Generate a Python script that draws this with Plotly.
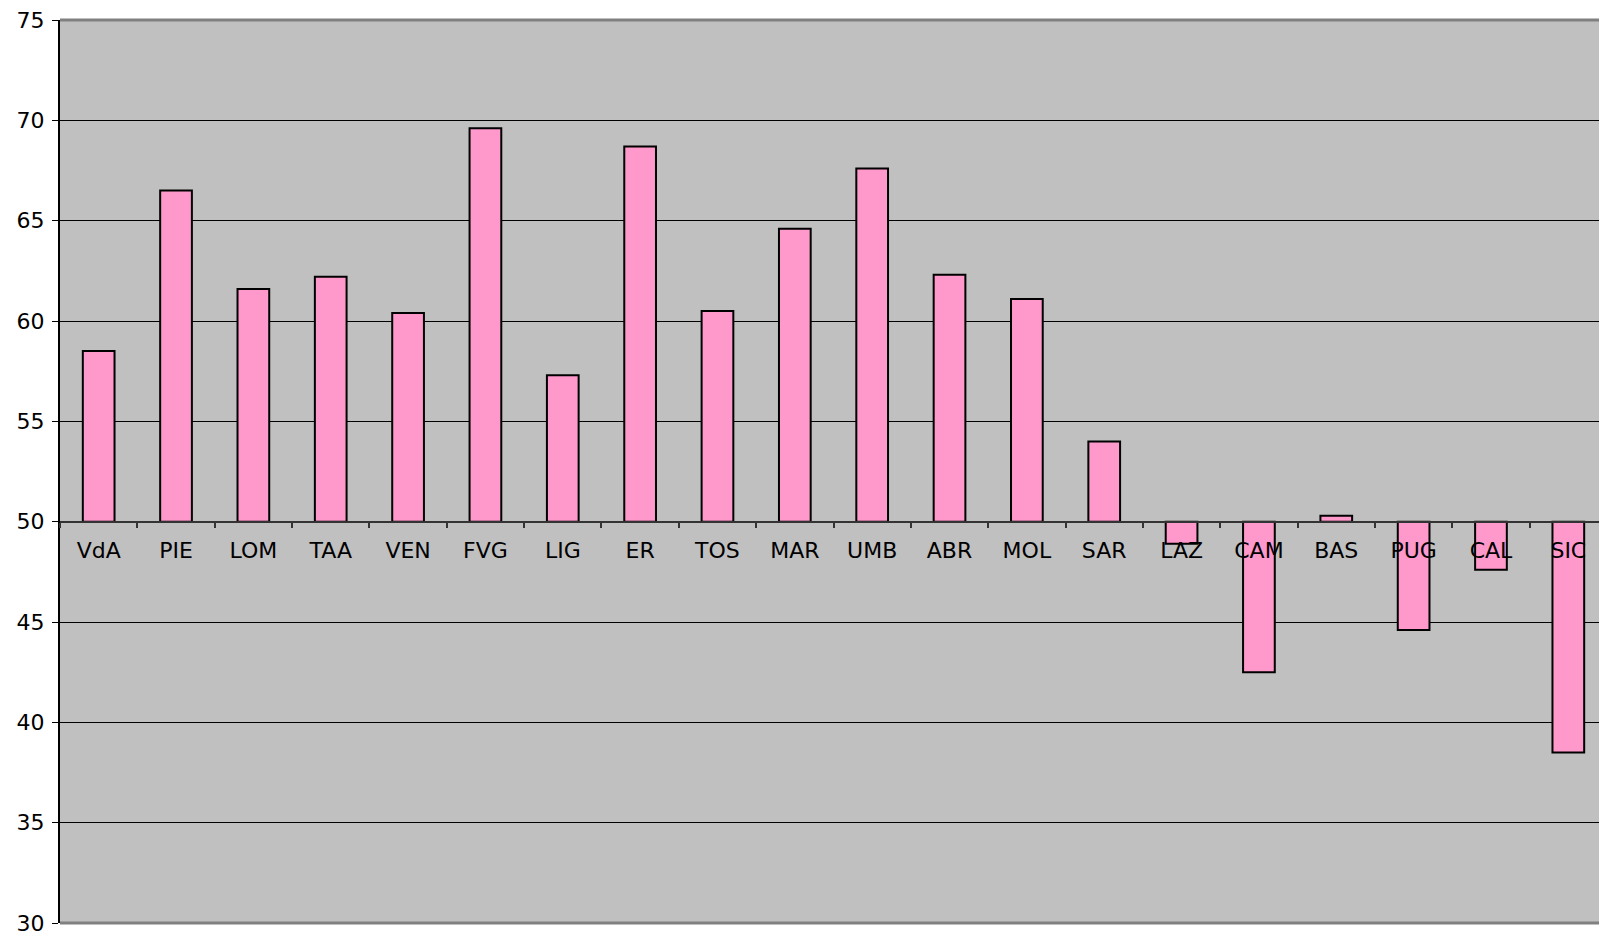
import plotly.graph_objects as go

categories = ["VdA", "PIE", "LOM", "TAA", "VEN", "FVG", "LIG", "ER", "TOS", "MAR",
              "UMB", "ABR", "MOL", "SAR", "LAZ", "CAM", "BAS", "PUG", "CAL", "SIC"]
values = [58.5, 66.5, 61.6, 62.2, 60.4, 69.6, 57.3, 68.7, 60.5, 64.6,
          67.6, 62.3, 61.1, 54.0, 48.9, 42.5, 50.3, 44.6, 47.6, 38.5]
baseline = 50
y_ticks = [30, 35, 40, 45, 50, 55, 60, 65, 70, 75]

y_min, y_max = 30, 75

fig = go.Figure()
fig.add_trace(go.Bar(
    x=categories,
    y=[v - baseline for v in values],
    base=baseline,
    marker=dict(color="#FF99CC", line=dict(color="black", width=2)),
    width=0.41,
))

font = dict(family="DejaVu Sans, Arial, sans-serif", size=22, color="black")

# page body has an 8px default margin; compensate so the plot lands where the reference has it
fig.update_layout(
    width=1599, height=928,
    margin=dict(l=52, r=0, t=12, b=13),
    paper_bgcolor="white",
    plot_bgcolor="#C0C0C0",
    showlegend=False,
    font=font,
    xaxis=dict(
        type="category",
        anchor="free",
        position=(baseline - y_min) / (y_max - y_min),
        showline=True, linecolor="#333333", linewidth=2,
        ticks="outside", tickson="boundaries", ticklen=5, tickcolor="#333333", tickwidth=1.5,
        showgrid=False,
        tickfont=font,
        ticklabelstandoff=9,
        range=[-0.5, len(categories) - 0.5],
    ),
    yaxis=dict(
        range=[y_min, y_max],
        tickvals=y_ticks,
        showline=True, linecolor="black", linewidth=2,
        ticks="outside", ticklen=6, tickcolor="black",
        showgrid=True, gridcolor="black", gridwidth=1,
        zeroline=False,
        tickfont=font,
        ticklabelstandoff=3,
        ticklabeloverflow="allow",
    ),
)

fig.add_shape(type="line", xref="paper", yref="paper", x0=0, x1=1, y0=1, y1=1,
              line=dict(color="#808080", width=3))
fig.add_shape(type="line", xref="paper", yref="paper", x0=0, x1=1, y0=0, y1=0,
              line=dict(color="#808080", width=3))

fig.write_html("out.html")
